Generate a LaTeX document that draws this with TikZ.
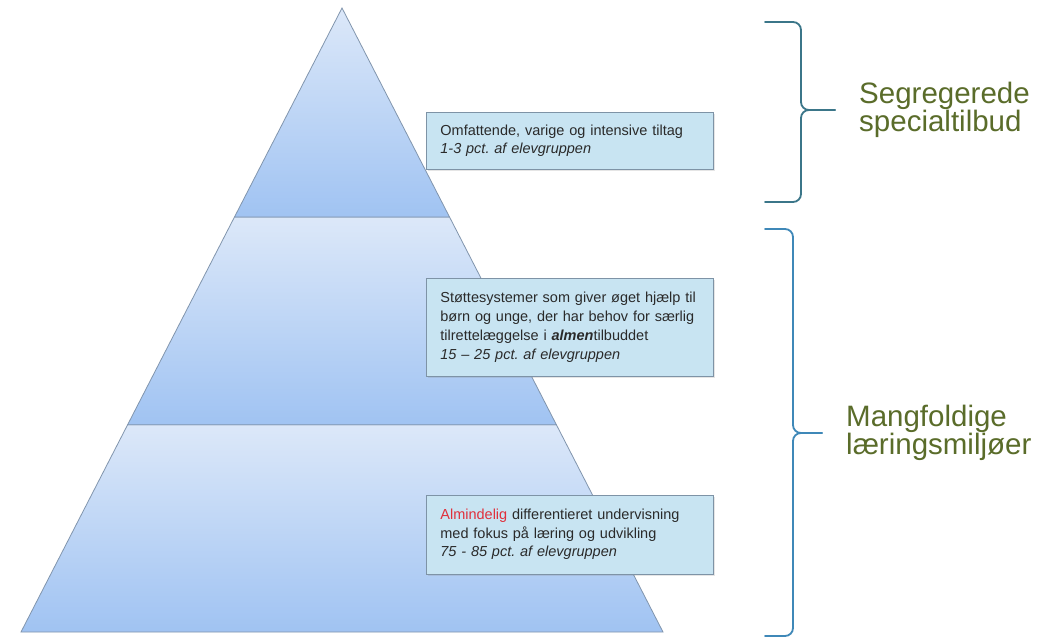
\documentclass[tikz,border=0pt]{standalone}
\usepackage{fontspec}
\setmainfont{Liberation Sans}
\usetikzlibrary{positioning,calc,shadows}

\definecolor{tierhi}{HTML}{DCE8F9}
\definecolor{tierlo}{HTML}{A0C3F2}
\definecolor{tieredge}{HTML}{8195AD}
\definecolor{boxfill}{HTML}{C8E4F2}
\definecolor{boxedge}{HTML}{7E93A6}
\definecolor{boxtext}{HTML}{2A2A2A}
\definecolor{bracetop}{HTML}{3B7689}
\definecolor{bracelow}{HTML}{3F88B8}
\definecolor{olive}{HTML}{5A6C2A}
\definecolor{redword}{HTML}{E0303C}

\begin{document}
\begin{tikzpicture}[x=1pt,y=-1pt,
    tier/.style={top color=tierhi,bottom color=tierlo,draw=tieredge,line width=0.8pt},
    infobox/.style={draw=boxedge,fill=boxfill,line width=0.8pt,
        minimum width=287pt,text width=259pt,inner xsep=14pt,inner ysep=0pt,align=left,
        font=\fontsize{14.5}{18.7}\selectfont,text=boxtext,
        drop shadow={opacity=0.2,shadow xshift=1.5pt,shadow yshift=-1.5pt}},
    brace/.style={line width=1.8pt,line cap=round,line join=round},
    side/.style={inner sep=0pt,align=left,text=olive,font=\fontsize{29.5}{26}\selectfont}]
    \useasboundingbox (0,0) rectangle (1059,639);
    \fill[white] (0,0) rectangle (1059,639);

    % pyramid
    \coordinate (apex) at (342,8);
    \coordinate (bl) at (21,632);
    \coordinate (br) at (663,632);
    \coordinate (l1) at ($(apex)!0.335!(bl)$);
    \coordinate (r1) at ($(apex)!0.335!(br)$);
    \coordinate (l2) at ($(apex)!0.668!(bl)$);
    \coordinate (r2) at ($(apex)!0.668!(br)$);
    \path[tier] (l2) -- (r2) -- (br) -- (bl) -- cycle;
    \path[tier] (l1) -- (r1) -- (r2) -- (l2) -- cycle;
    \path[tier] (apex) -- (r1) -- (l1) -- cycle;

    % text boxes
    \node[infobox,anchor=north west,minimum height=57pt](b1) at (426,112)
        {Omfattende, varige og intensive tiltag\\\textit{1-3 pct.\ af elevgruppen}};
    \node[infobox,minimum height=98pt](b2)[below=108pt of b1]
        {Støttesystemer som giver øget hjælp til\\børn og unge, der har behov for særlig\\tilrettelæggelse i \textbf{\textit{almen}}tilbuddet\\\textit{15 – 25 pct.\ af elevgruppen}};
    \node[infobox,minimum height=79pt](b3)[below=118pt of b2]
        {\textcolor{redword}{Almindelig} differentieret undervisning\\med fokus på læring og udvikling\\\textit{75 - 85 pct.\ af elevgruppen}};

    % braces
    \draw[brace,bracetop] (765,22) -- (793,22) to[out=0,in=90] (801,30) -- (801,102)
        to[out=-90,in=180] (809,110) -- (835,110) coordinate (t1);
    \draw[brace,bracetop] (t1) -- (809,110) to[out=180,in=90] (801,118) -- (801,194)
        to[out=-90,in=0] (793,202) -- (765,202);
    \node[side](s1)[right=24pt of t1]{Segregerede\\specialtilbud};

    \draw[brace,bracelow] (765,229) -- (785,229) to[out=0,in=90] (793,237) -- (793,425)
        to[out=-90,in=180] (801,433) -- (822,433) coordinate (t2);
    \draw[brace,bracelow] (t2) -- (801,433) to[out=180,in=90] (793,441) -- (793,628)
        to[out=-90,in=0] (785,636) -- (765,636);
    \node[side](s2)[right=24pt of t2]{Mangfoldige\\læringsmiljøer};
\end{tikzpicture}
\end{document}
